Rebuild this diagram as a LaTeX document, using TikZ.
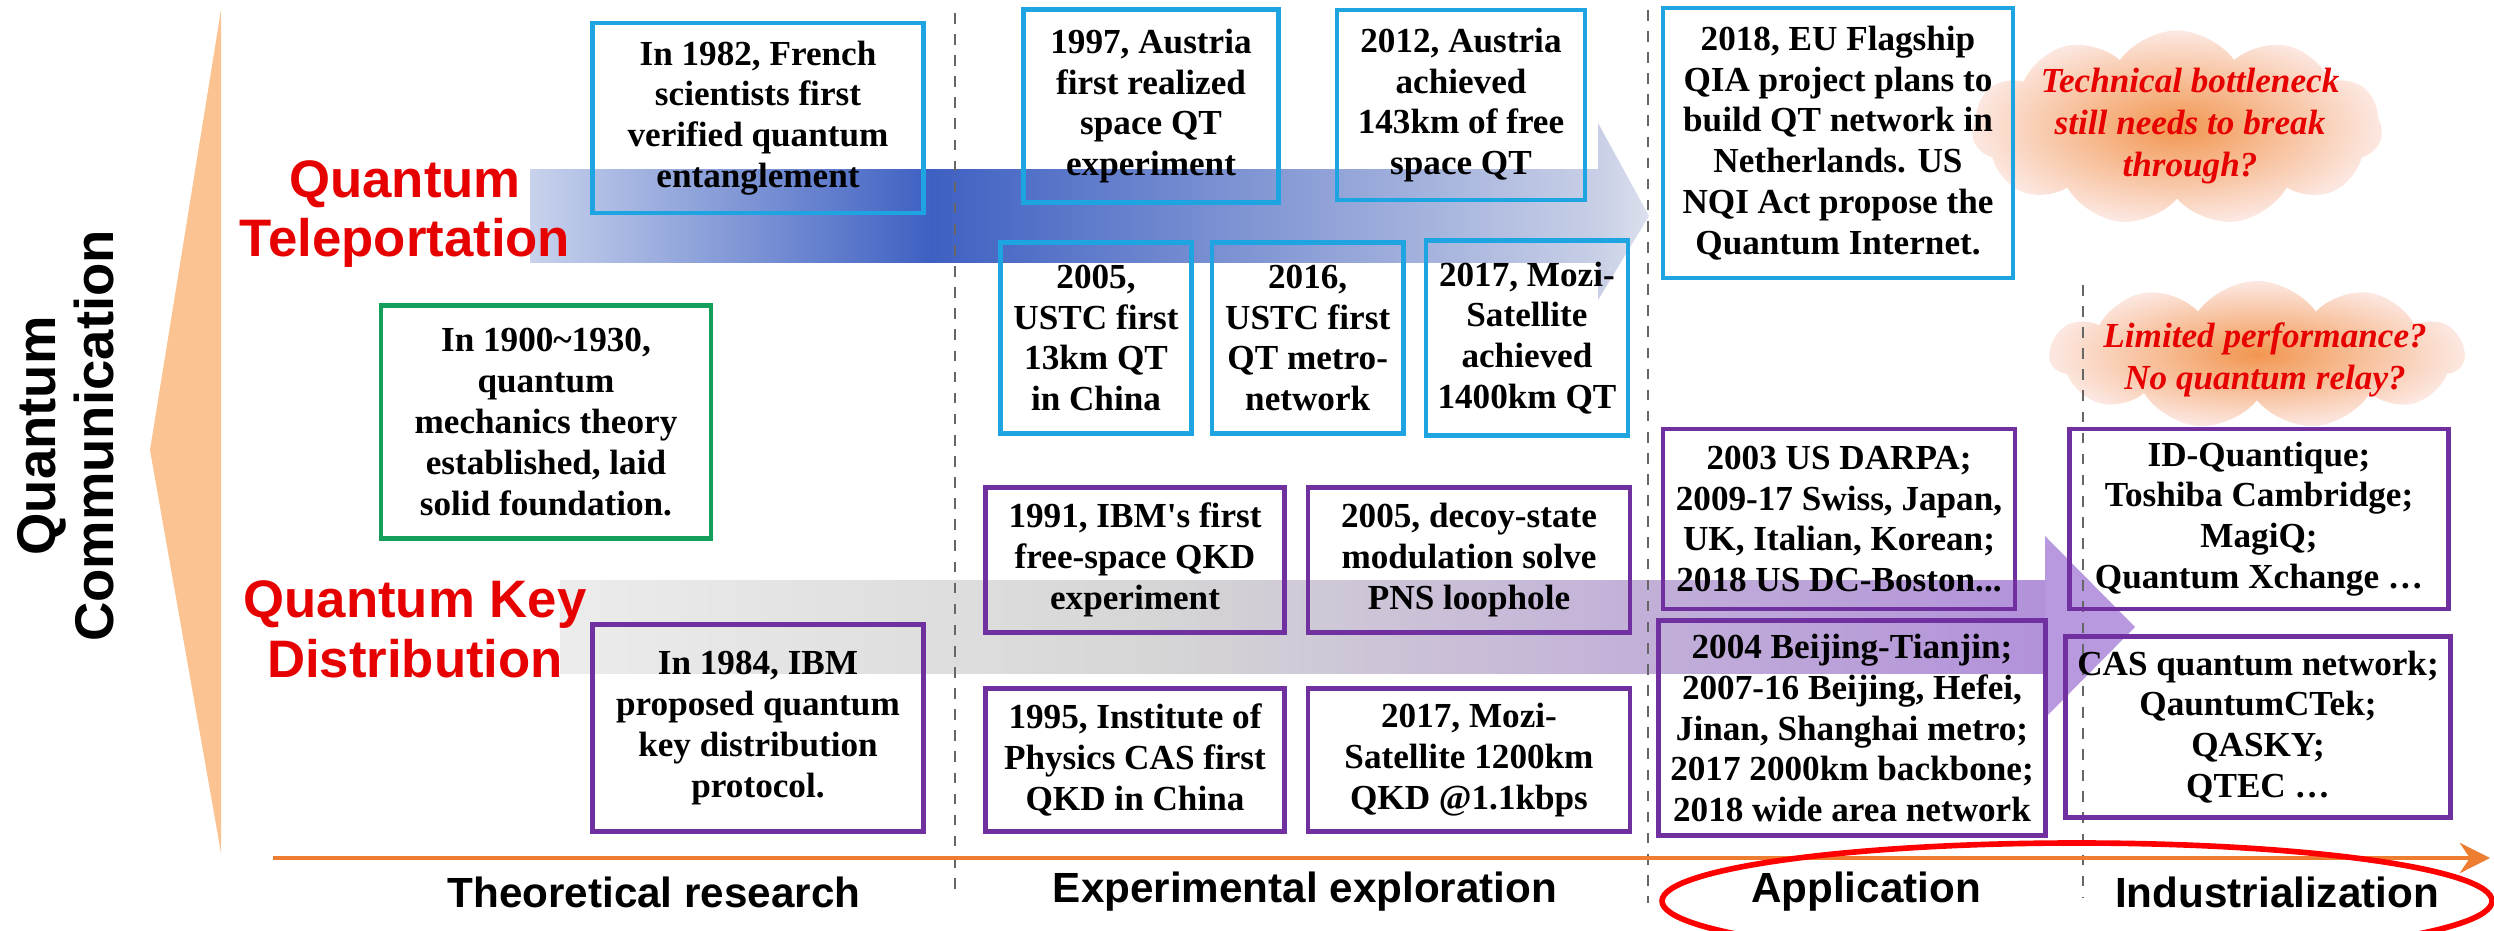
\documentclass[tikz,border=0pt]{standalone}
\usepackage{fontspec}
\setmainfont{Liberation Serif}
\setsansfont{Liberation Sans}
\usepackage{tikz}
\usepackage{xcolor}
\usetikzlibrary{arrows.meta, shapes.symbols, positioning}
\definecolor{cQT}{RGB}{30,165,225}
\definecolor{cQKD}{RGB}{112,48,160}
\definecolor{cTheory}{RGB}{20,160,90}
\definecolor{cAxis}{RGB}{237,125,49}
\definecolor{cTri}{RGB}{250,195,145}
\definecolor{cRedTxt}{RGB}{230,0,0}
\definecolor{cBlueL}{RGB}{200,210,236}
\definecolor{cBlueD}{RGB}{62,96,194}
\definecolor{cBlueE}{RGB}{200,207,230}
\definecolor{cBlueF}{RGB}{220,224,238}
\definecolor{cGrayL}{RGB}{236,236,236}
\definecolor{cGrayD}{RGB}{214,214,214}
\definecolor{cPurpB}{RGB}{178,145,218}
\definecolor{cPurpH}{RGB}{184,152,222}
\definecolor{cCloudIn}{RGB}{242,150,80}
\definecolor{cCloudOut}{RGB}{252,232,226}
\tikzset{
	qtbox/.style   ={rectangle, draw=cQT, line width=1.3pt, align=center, font={\bfseries\fontsize{10}{11.6}\selectfont}},
	qkdbox/.style  ={rectangle, draw=cQKD, line width=1.3pt, align=center, font={\bfseries\fontsize{10}{11.6}\selectfont}},
	theorybox/.style={rectangle, draw=cTheory, line width=1.3pt, align=center, font={\bfseries\fontsize{10}{11.6}\selectfont}},
	field/.style   ={align=center, text=cRedTxt, font={\sffamily\bfseries\fontsize{15}{17}\selectfont}},
	stage/.style   ={font={\sffamily\bfseries\fontsize{12}{14}\selectfont}},
	cloudshape/.style={cloud, cloud puffs=11, cloud puff arc=110, cloud ignores aspect, shade, inner color=cCloudIn, outer color=cCloudOut},
	cloudtxt/.style={align=center, text=cRedTxt, font={\bfseries\itshape\fontsize{10}{11.9}\selectfont}},
	divider/.style ={dashed, gray!80!black, line width=0.6pt},
	timeaxis/.style={-{Stealth[length=3mm, width=3mm]}, cAxis, line width=1.4pt},
}

\begin{document}
\begin{tikzpicture}[x=0.01cm, y=-0.01cm]
	\useasboundingbox (0,0) rectangle (2494,931);
	\clip (0,0) rectangle (2494,931);
	% left bracket
	\fill[cTri] (221,10) -- (221,853) -- (150,450) -- cycle;
	\node[rotate=90, align=center, font={\sffamily\bfseries\fontsize{15.5}{16.5}\selectfont}] (qcomm) at (66,436) {Quantum\\Communication};
	% teleportation band
	\shade[left color=cBlueL, right color=cBlueD] (530,170) rectangle (931,263);
	\shade[left color=cBlueD, right color=cBlueE] (930,170) rectangle (1598,263);
	\shade[left color=cBlueE, right color=cBlueF] (1598,123) -- (1649,216) -- (1598,300) -- cycle;
	% key distribution band
	\shade[left color=cGrayL, right color=cGrayD] (560,581) rectangle (1151,674);
	\shade[left color=cGrayD, right color=cPurpB] (1150,581) rectangle (2045,674);
	\fill[cPurpH] (2045,536) -- (2135,627) -- (2045,718) -- cycle;
	% clouds
	\node[cloudshape, minimum width=4.1cm, minimum height=1.95cm] (cloudA) at (2177,128) {};
	\node[cloudshape, minimum width=4.14cm, minimum height=1.48cm] (cloudB) at (2257,355) {};
	\node[cloudtxt] (noteA) at (2190,126) {Technical bottleneck\\still needs to break\\through?};
	\node[cloudtxt] (noteB) at (2265,360) {Limited performance?\\No quantum relay?};
	% stage dividers
	\draw[divider] (955,13) -- (955,897);
	\draw[divider] (1648,10) -- (1648,903);
	\draw[divider] (2083,285) -- (2083,897);
	% time axis
	\draw[timeaxis] (273,858) -- (2490,858);
	% field labels
	\node[field] (fQT) at (405,214) {Quantum\\Teleportation};
	\node[field] (fQKD) at (415,629) {Quantum Key\\Distribution};
	% theory
	\node[theorybox, minimum width=3.30cm, minimum height=2.33cm] (bTheory) at (546,422) {In 1900\textasciitilde1930,\\quantum\\mechanics theory\\established, laid\\solid foundation.};
	\node[qtbox, minimum width=3.31cm, minimum height=1.90cm] (b1982) at (758,118) {In 1982, French\\scientists first\\verified quantum\\entanglement};
	\node[qkdbox, minimum width=3.31cm, minimum height=2.07cm] (b1984) at (758,728) {In 1984, IBM\\proposed quantum\\key distribution\\protocol.};
	% experiments, teleportation
	\node[qtbox, minimum width=2.55cm, minimum height=1.93cm] (b1997) at (1151,106) {1997, Austria\\first realized\\space QT\\experiment};
	\node[qtbox, minimum width=2.48cm, minimum height=1.90cm] (b2012) at (1461,105) {2012, Austria\\achieved\\143km of free\\space QT};
	\node[qtbox, minimum width=1.91cm, minimum height=1.91cm] (b2005) at (1096,338) {2005,\\USTC first\\13km QT\\in China};
	\node[qtbox, minimum width=1.91cm, minimum height=1.91cm, right=0.16cm of b2005] (b2016) {2016,\\USTC first\\QT metro-\\network};
	\node[qtbox, minimum width=1.92cm, minimum height=1.95cm, right=0.18cm of b2016] (b2017) {2017, Mozi-\\Satellite\\achieved\\1400km QT};
	% experiments, key distribution
	\node[qkdbox, minimum width=2.99cm, minimum height=1.45cm] (b1991) at (1135,560) {1991, IBM\textquotesingle s first\\free-space QKD\\experiment};
	\node[qkdbox, minimum width=3.22cm, minimum height=1.45cm] (bDecoy) at (1469,560) {2005, decoy-state\\modulation solve\\PNS loophole};
	\node[qkdbox, minimum width=2.99cm, minimum height=1.43cm] (b1995) at (1135,760) {1995, Institute of\\Physics CAS first\\QKD in China};
	\node[qkdbox, minimum width=3.22cm, minimum height=1.43cm] (bMozi) at (1469,760) {2017, Mozi-\\Satellite 1200km\\QKD @1.1kbps};
	% application
	\node[qtbox, minimum width=3.50cm, minimum height=2.70cm] (bEU) at (1838,143) {2018, EU Flagship\\QIA project plans to\\build QT network in\\Netherlands. US\\NQI Act propose the\\Quantum Internet.};
	\node[qkdbox, minimum width=3.52cm, minimum height=1.80cm] (bDarpa) at (1839,519) {2003 US DARPA;\\2009-17 Swiss, Japan,\\UK, Italian, Korean;\\2018 US DC-Boston...};
	\node[qkdbox, minimum width=3.81cm, minimum height=2.15cm] (bBeijing) at (1852,728) {2004 Beijing-Tianjin;\\2007-16 Beijing, Hefei,\\Jinan, Shanghai metro;\\2017 2000km backbone;\\2018 wide area network};
	% industrialization
	\node[qkdbox, minimum width=3.79cm, minimum height=1.80cm] (bIdq) at (2259,519) {ID-Quantique;\\Toshiba Cambridge;\\MagiQ;\\Quantum Xchange \ldots};
	\node[qkdbox, minimum width=3.82cm, minimum height=1.81cm] (bCas) at (2258,727) {CAS quantum network;\\QauntumCTek;\\QASKY;\\QTEC \ldots};
	% stages
	\node[stage] (stTheo) at (654,892) {Theoretical research};
	\node[stage] (stExp) at (1305,892) {Experimental exploration};
	\node[stage] (stApp) at (1866,892) {Application};
	\node[stage] (stInd) at (2277,892) {Industrialization};
	\draw[red, line width=1.6pt] (2077,901) ellipse [x radius=415, y radius=58];
\end{tikzpicture}
\end{document}
